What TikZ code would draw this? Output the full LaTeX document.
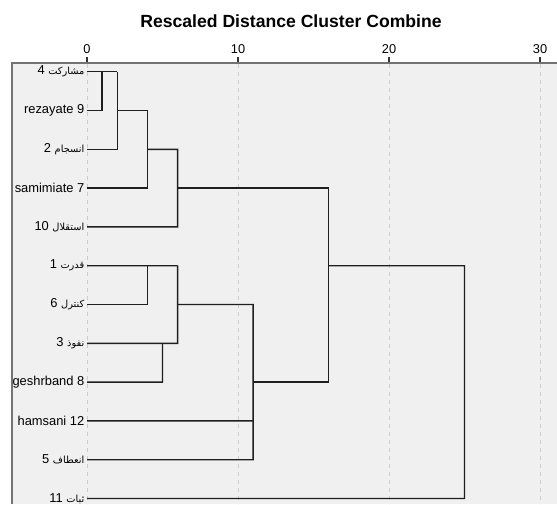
\documentclass[tikz,border=0pt]{standalone}
\usepackage{fontspec}
\setmainfont{Liberation Sans}
\newfontfamily\fa[Script=Arabic]{DejaVu Sans}
\TeXXeTstate=1
% Persian word, set right to left in a smaller face
\newcommand\faw[1]{{\fa\fontsize{9.8}{11}\selectfont\beginR #1\endR}}
\begin{document}
\begin{tikzpicture}[x=1pt,y=-1pt,
  panel/.style={fill=black!6},
  frameline/.style={draw=black!55, line width=1.1pt},
  gridline/.style={draw=black!20, line width=1pt, dash pattern=on 4pt off 4pt},
  tickline/.style={draw=black!80, line width=1.3pt},
  ticklbl/.style={anchor=base, inner sep=0pt, font=\fontsize{12.8}{14}\selectfont},
  titlelbl/.style={anchor=base, inner sep=0pt, font=\bfseries\fontsize{17.6}{19}\selectfont},
  lbl/.style={anchor=east, inner sep=0pt, font=\fontsize{12.9}{14}\selectfont},
  link/.style={draw=black!88, line width=1.4pt, line join=miter}]
\useasboundingbox (0,0) rectangle (557,504);
\fill[white] (0,0) rectangle (557,504);
\fill[panel] (12,63) rectangle (557,504);

% distance axis: 1 unit = 15.1pt, origin at x = 87
\foreach \v in {0,10,20,30}{
  \draw[gridline] ({87+15.1*\v},64) -- ({87+15.1*\v},504);
  \draw[tickline] ({87+15.1*\v},57) -- ({87+15.1*\v},63);
  \node[ticklbl] (t\v) at ({87+15.1*\v},53.5) {\v};
}
\draw[frameline] (12,504) -- (12,63) -- (557,63);
\node[titlelbl] (title) at (291,27) {Rescaled Distance Cluster Combine};

% leaves
\foreach \i/\txt in {0/{4 \faw{مشارکت}},1/{rezayate 9},2/{2 \faw{انسجام}},
  3/{samimiate 7},4/{10 \faw{استقلال}},5/{1 \faw{قدرت}},6/{6 \faw{کنترل}},
  7/{3 \faw{نفوذ}},8/{geshrband 8},9/{hamsani 12},10/{5 \faw{انعطاف}},11/{11 \faw{ثبات}}}{
  \node[lbl] (n\i) at (84.5,{71.7+38.8*\i}) {\txt};
  \coordinate (L\i) at (87,{71.7+38.8*\i});
}

% merge points (x = 87 + 15.1 * distance)
\coordinate (a0) at (102.1,71.7);  \coordinate (a1) at (102.1,110.5);
\coordinate (b0) at (117.2,71.7);  \coordinate (b1) at (117.2,110.5);  \coordinate (b2) at (117.2,149.3);
\coordinate (c1) at (147.4,110.5); \coordinate (c2) at (147.4,149.3);  \coordinate (c3) at (147.4,188.1);
\coordinate (d2) at (177.6,149.3); \coordinate (d3) at (177.6,188.1);  \coordinate (d4) at (177.6,226.9);
\coordinate (e5) at (147.4,265.7); \coordinate (e6) at (147.4,304.5);
\coordinate (f7) at (162.5,343.3); \coordinate (f8) at (162.5,382.1);
\coordinate (g5) at (177.6,265.7); \coordinate (g6) at (177.6,304.5);  \coordinate (g7) at (177.6,343.3);
\coordinate (h6) at (253.1,304.5); \coordinate (h8) at (253.1,382.1);
\coordinate (h9) at (253.1,420.9); \coordinate (h10) at (253.1,459.7);
\coordinate (k3) at (328.6,188.1); \coordinate (k5) at (328.6,265.7);  \coordinate (k8) at (328.6,382.1);
\coordinate (r5) at (464.5,265.7); \coordinate (r11) at (464.5,498.5);

% upper cluster
\draw[link] (L0) -- (b0);
\draw[link] (L1) -- (a1) -- (a0);
\draw[link] (L2) -- (b2) -- (b0);
\draw[link] (b1) -- (c1) -- (c3) -- (L3);
\draw[link] (c2) -- (d2) -- (d4) -- (L4);
\draw[link] (d3) -- (k3) -- (k8) -- (h8);
% lower cluster
\draw[link] (L5) -- (g5);
\draw[link] (L6) -- (e6) -- (e5);
\draw[link] (L7) -- (g7) -- (g5);
\draw[link] (L8) -- (f8) -- (f7);
\draw[link] (g6) -- (h6) -- (h10) -- (L10);
\draw[link] (L9) -- (h9);
% final join
\draw[link] (k5) -- (r5) -- (r11) -- (L11);
\end{tikzpicture}
\end{document}
